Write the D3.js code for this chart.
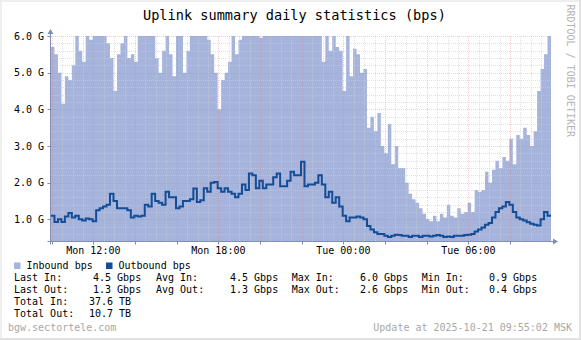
<!DOCTYPE html>
<html>
<head>
<meta charset="utf-8">
<script src="https://cdn.jsdelivr.net/npm/d3@7"></script>
<style>
  html, body { margin: 0; padding: 0; background: #ffffff; }
  svg { display: block; font-family: "DejaVu Sans Mono", monospace; }
</style>
</head>
<body>
<svg id="chart" width="581" height="340"></svg>
<script>
// ---- data -------------------------------------------------------------
const chartTitle = "Uplink summary daily statistics (bps)";
const startTime = new Date(2025, 9, 20, 9, 58);   // Mon 09:58
const stepMinutes = 10;

// Inbound traffic, Gbps (10-minute samples)
const inboundGbps = [
  5.7, 5.5, 5.0, 4.15, 4.9, 4.8, 5.2, 6.0, 5.6, 5.3,
  6.0, 5.9, 6.0, 6.0, 6.0, 6.0, 5.8, 5.4, 4.5, 5.5,
  5.8, 6.0, 5.4, 5.5, 5.3, 6.0, 6.0, 6.0, 6.0, 6.0,
  5.4, 5.0, 5.6, 6.0, 5.5, 4.9, 6.0, 6.0, 5.0, 5.6,
  6.0, 6.0, 6.0, 6.0, 6.0, 5.9, 5.5, 5.0, 4.0, 4.8,
  5.0, 5.3, 6.0, 5.5, 5.9, 6.0, 6.0, 6.0, 6.0, 6.0,
  5.95, 6.0, 6.0, 6.0, 6.0, 6.0, 6.0, 6.0, 6.0, 6.0,
  6.0, 6.0, 6.0, 6.0, 6.0, 6.0, 6.0, 6.0, 5.3, 6.0,
  5.6, 6.0, 5.7, 5.6, 4.5, 6.0, 4.9, 5.65, 5.5, 5.0,
  5.1, 3.5, 3.8, 3.4, 3.9, 3.0, 2.8, 3.6, 2.5, 3.0,
  2.4, 2.4, 2.0, 1.7, 1.55, 1.45, 1.3, 1.15, 1.0, 0.95,
  1.1, 0.95, 1.15, 1.05, 1.4, 1.1, 1.05, 1.3, 1.15, 1.2,
  1.45, 1.2, 1.8, 1.75, 1.8, 2.3, 2.0, 2.35, 2.6, 2.4,
  2.7, 2.6, 3.2, 2.5, 3.3, 3.2, 3.5, 3.3, 3.0, 3.4,
  4.5, 5.1, 5.5, 6.0
];

// Outbound traffic, Gbps (10-minute samples)
const outboundGbps = [
  1.1, 0.93, 1.0, 0.93, 1.08, 1.17, 1.05, 1.1, 1.0, 0.97,
  1.02, 1.0, 0.95, 1.25, 1.3, 1.35, 1.4, 1.7, 1.5, 1.3,
  1.3, 1.3, 1.25, 1.05, 1.1, 1.08, 1.1, 1.4, 1.35, 1.7,
  1.5, 1.45, 1.4, 1.75, 1.6, 1.6, 1.3, 1.35, 1.5, 1.5,
  1.55, 1.84, 1.47, 1.52, 1.85, 1.75, 2.0, 2.02, 1.85, 1.75,
  1.85, 1.75, 1.7, 1.6, 1.7, 1.95, 1.8, 2.25, 2.2, 1.85,
  2.05, 1.85, 1.95, 1.95, 2.15, 2.25, 1.9, 1.9, 2.05, 2.3,
  2.2, 2.2, 2.57, 1.9, 1.95, 1.95, 2.0, 2.2, 1.95, 1.6,
  1.75, 1.45, 1.6, 1.35, 1.1, 0.95, 1.05, 1.05, 1.08, 1.05,
  1.0, 0.82, 0.72, 0.65, 0.6, 0.6, 0.55, 0.52, 0.55, 0.58,
  0.57, 0.55, 0.55, 0.52, 0.55, 0.55, 0.52, 0.55, 0.55, 0.53,
  0.55, 0.57, 0.55, 0.52, 0.53, 0.52, 0.55, 0.55, 0.55, 0.57,
  0.58, 0.6, 0.67, 0.72, 0.78, 0.85, 0.9, 1.05, 1.2, 1.3,
  1.35, 1.47, 1.4, 1.2, 1.05, 1.0, 0.97, 0.92, 0.88, 0.85,
  0.83, 1.0, 1.2, 1.1
];

const yTickValues = [1, 2, 3, 4, 5, 6];
const yTickLabels = ["1.0 G", "2.0 G", "3.0 G", "4.0 G", "5.0 G", "6.0 G"];
const xLabelTimes = [
  new Date(2025, 9, 20, 12, 0), new Date(2025, 9, 20, 18, 0),
  new Date(2025, 9, 21, 0, 0), new Date(2025, 9, 21, 6, 0)
];
const xLabelTexts = ["Mon 12:00", "Mon 18:00", "Tue 00:00", "Tue 06:00"];

const legendNames = ["Inbound bps", "Outbound bps"];
const statLabels = [
  ["Last In:", "Avg In:", "Max In:", "Min In:"],
  ["Last Out:", "Avg Out:", "Max Out:", "Min Out:"]
];
const statValues = [
  ["4.5 Gbps", "4.5 Gbps", "6.0 Gbps", "0.9 Gbps"],
  ["1.3 Gbps", "1.3 Gbps", "2.6 Gbps", "0.4 Gbps"]
];
const totalLabels = ["Total In:", "Total Out:"];
const totalValues = ["37.6 TB", "10.7 TB"];
const hostName = "bgw.sectortele.com";
const updateText = "Update at 2025-10-21 09:55:02 MSK";
const watermark = "RRDTOOL / TOBI OETIKER";

// ---- styling ----------------------------------------------------------
const colInbound = "#a6b4db";
const colOutbound = "#134c97";
const colAxis = "#7d8fb8";
const colMinorGrid = "rgba(205,205,205,0.6)";
const colMajorGrid = "rgba(236,120,120,0.4)";
const colFaint = "#a8a8a8";

const W = 581, H = 340;
const plot = { left: 51, right: 551, top: 36, bottom: 241.7 };

const svg = d3.select("#chart");

// background and 3D-ish frame
svg.append("rect").attr("width", W).attr("height", H).attr("fill", "#ffffff");
svg.append("rect").attr("x", 0).attr("y", 0).attr("width", W).attr("height", 2).attr("fill", "#eeeeee");
svg.append("rect").attr("x", 0).attr("y", 0).attr("width", 2).attr("height", H).attr("fill", "#eeeeee");
svg.append("rect").attr("x", 0).attr("y", H - 2).attr("width", W).attr("height", 2).attr("fill", "#e2e2e2");
svg.append("rect").attr("x", W - 2).attr("y", 0).attr("width", 2).attr("height", H).attr("fill", "#e2e2e2");

// ---- scales -----------------------------------------------------------
const endTime = new Date(startTime.getTime() + 24 * 3600 * 1000);
const x = d3.scaleTime().domain([startTime, endTime]).range([plot.left, plot.right]);
const y = d3.scaleLinear().domain([0.39, 6.0]).range([plot.bottom, plot.top]);

const toSeries = arr => {
  const pts = arr.map((v, i) => ({ t: new Date(startTime.getTime() + i * stepMinutes * 60000), v }));
  pts.push({ t: endTime, v: arr[arr.length - 1] });
  return pts;
};
const inSeries = toSeries(inboundGbps);
const outSeries = toSeries(outboundGbps);

svg.append("defs").append("clipPath").attr("id", "plotClip")
  .append("rect").attr("x", plot.left).attr("y", plot.top - 1)
  .attr("width", plot.right - plot.left).attr("height", plot.bottom - plot.top + 1);

// ---- inbound area -----------------------------------------------------
const area = d3.area()
  .x(d => x(d.t))
  .y0(plot.bottom)
  .y1(d => y(Math.min(d.v, 6.0)))
  .curve(d3.curveStepAfter);

svg.append("path").datum(inSeries)
  .attr("clip-path", "url(#plotClip)")
  .attr("d", area)
  .attr("fill", colInbound);

// ---- grid -------------------------------------------------------------
const grid = svg.append("g");
const snap = v => Math.round(v) + 0.5;

const minorY = d3.range(4, 61, 2).map(v => v / 10).filter(v => Math.abs(v - Math.round(v)) > 1e-6);
grid.selectAll(".minorY").data(minorY).enter().append("line")
  .attr("x1", plot.left).attr("x2", plot.right)
  .attr("y1", d => snap(y(d))).attr("y2", d => snap(y(d)))
  .attr("stroke", colMinorGrid).attr("stroke-dasharray", "1,1");

const minorX = d3.timeMinute.every(30).range(startTime, endTime)
  .filter(t => t.getMinutes() !== 0 || t.getHours() % 2 !== 0);
grid.selectAll(".minorX").data(minorX).enter().append("line")
  .attr("x1", d => snap(x(d))).attr("x2", d => snap(x(d)))
  .attr("y1", plot.top).attr("y2", plot.bottom)
  .attr("stroke", colMinorGrid).attr("stroke-dasharray", "1,1");

grid.selectAll(".majorY").data(yTickValues).enter().append("line")
  .attr("x1", plot.left).attr("x2", plot.right)
  .attr("y1", d => snap(y(d))).attr("y2", d => snap(y(d)))
  .attr("stroke", colMajorGrid).attr("stroke-dasharray", "1,1");

const majorX = d3.timeHour.every(2).range(startTime, endTime);
grid.selectAll(".majorX").data(majorX).enter().append("line")
  .attr("x1", d => snap(x(d))).attr("x2", d => snap(x(d)))
  .attr("y1", plot.top).attr("y2", plot.bottom)
  .attr("stroke", colMajorGrid).attr("stroke-dasharray", "1,1");

// ---- outbound line ----------------------------------------------------
const line = d3.line()
  .x(d => x(d.t))
  .y(d => y(d.v))
  .curve(d3.curveStepAfter);

svg.append("path").datum(outSeries)
  .attr("clip-path", "url(#plotClip)")
  .attr("d", line)
  .attr("fill", "none")
  .attr("stroke", colOutbound)
  .attr("stroke-width", 2);

// ---- axes -------------------------------------------------------------
const axisY = 241.5, axisX = 50.5;
svg.append("line").attr("x1", axisX - 3).attr("x2", plot.right + 3)
  .attr("y1", axisY).attr("y2", axisY).attr("stroke", colAxis);
svg.append("path").attr("d", `M${plot.right + 2},${axisY - 3}L${plot.right + 7},${axisY}L${plot.right + 2},${axisY + 3}Z`)
  .attr("fill", colAxis);
svg.append("line").attr("x1", axisX).attr("x2", axisX)
  .attr("y1", axisY + 3).attr("y2", plot.top - 3).attr("stroke", colAxis);
svg.append("path").attr("d", `M${axisX - 3},${plot.top - 2}L${axisX},${plot.top - 7}L${axisX + 3},${plot.top - 2}Z`)
  .attr("fill", colAxis);

// x ticks below axis at the 2-hour marks
svg.selectAll(".xtick").data(majorX).enter().append("line")
  .attr("x1", d => snap(x(d))).attr("x2", d => snap(x(d)))
  .attr("y1", axisY).attr("y2", axisY + 3).attr("stroke", colAxis);
// y ticks left of axis
svg.selectAll(".ytick").data(yTickValues).enter().append("line")
  .attr("x1", axisX - 3).attr("x2", axisX)
  .attr("y1", d => snap(y(d))).attr("y2", d => snap(y(d))).attr("stroke", colAxis);

svg.selectAll(".ylab").data(yTickValues).enter().append("text")
  .attr("x", 44).attr("y", d => y(d) + 3.8)
  .attr("text-anchor", "end").attr("font-size", "10px").attr("fill", "#000")
  .text((d, i) => yTickLabels[i]);

svg.selectAll(".xlab").data(xLabelTimes).enter().append("text")
  .attr("x", d => x(d)).attr("y", 253.5)
  .attr("text-anchor", "middle").attr("font-size", "10px").attr("fill", "#000")
  .text((d, i) => xLabelTexts[i]);

// ---- title & watermark ------------------------------------------------
svg.append("text").attr("x", 143).attr("y", 19.5)
  .attr("font-size", "13.6px").attr("fill", "#000").text(chartTitle);

svg.append("text").attr("transform", "translate(567,4.5) rotate(90)")
  .attr("font-size", "10px").attr("fill", "#b4b4b4").text(watermark);

// ---- legend -----------------------------------------------------------
const legendColors = [colInbound, colOutbound];
const legendBoxX = [14, 106];
legendNames.forEach((name, i) => {
  svg.append("rect").attr("x", legendBoxX[i]).attr("y", 262.5)
    .attr("width", 6.5).attr("height", 6.5).attr("fill", legendColors[i]);
  svg.append("text").attr("x", legendBoxX[i] + 12.5).attr("y", 269)
    .attr("font-size", "10px").attr("fill", "#000").text(name);
});

const labelX = [14, 156, 291.7, 421.7];
const valueX = [93, 230, 360, 489];
const rowY = [281, 293];
statLabels.forEach((row, r) => {
  row.forEach((lab, c) => {
    svg.append("text").attr("x", labelX[c]).attr("y", rowY[r])
      .attr("font-size", "10px").attr("fill", "#000").text(lab);
    svg.append("text").attr("x", valueX[c]).attr("y", rowY[r])
      .attr("font-size", "10px").attr("fill", "#000").text(statValues[r][c]);
  });
});
const totalY = [305, 317];
totalLabels.forEach((lab, r) => {
  svg.append("text").attr("x", 14).attr("y", totalY[r])
    .attr("font-size", "10px").attr("fill", "#000").text(lab);
  svg.append("text").attr("x", 89).attr("y", totalY[r])
    .attr("font-size", "10px").attr("fill", "#000").text(totalValues[r]);
});

// ---- footer -----------------------------------------------------------
svg.append("text").attr("x", 8).attr("y", 331)
  .attr("font-size", "10px").attr("fill", colFaint).text(hostName);
svg.append("text").attr("x", 572).attr("y", 331).attr("text-anchor", "end")
  .attr("font-size", "10px").attr("fill", colFaint).text(updateText);
</script>
</body>
</html>
